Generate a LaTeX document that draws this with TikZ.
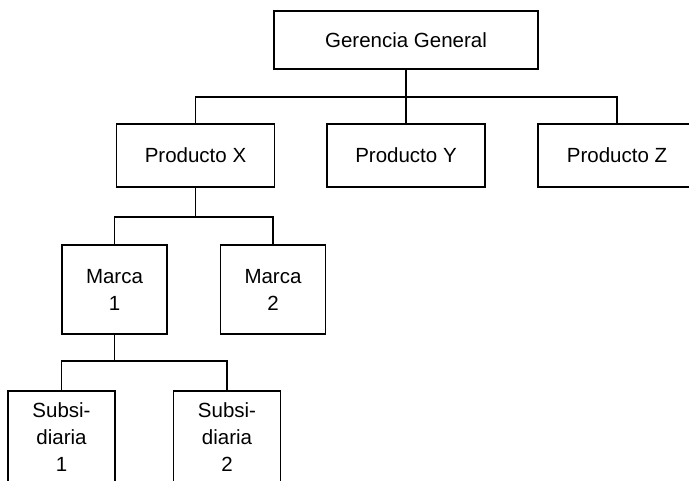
\documentclass[tikz,border=0pt]{standalone}
\usepackage{fontspec}
\setmainfont{Liberation Sans}
\begin{document}
\begin{tikzpicture}[x=1pt,y=-1pt,
  box/.style={draw=black, line width=1.1pt, align=center, inner sep=0pt,
              font=\fontsize{20.5}{27}\selectfont},
  wide/.style={box, minimum width=158pt, minimum height=63pt},
  mid/.style={box, minimum width=105pt, minimum height=89pt},
  low/.style={box, minimum width=107pt, minimum height=93pt},
  link/.style={draw=black, line width=1.1pt}]
\useasboundingbox (0,0) rectangle (689,480);
\clip (0,0) rectangle (689,480);

% top level
\node[box, minimum width=264pt, minimum height=58pt] (gg) at (406,40) {Gerencia General};

% products
\node[wide] (px) at (195.5,155.5) {Producto X};
\node[wide] (py) at (406,155.5) {Producto Y};
\node[wide] (pz) at (617,155.5) {Producto Z};

% brands
\node[mid] (m1) at (114.5,289.5) {Marca\\1};
\node[mid] (m2) at (273,289.5) {Marca\\2};

% subsidiaries (boxes run off the lower edge)
\node[low] (s1) at (61.5,437.5) {Subsi-\\diaria\\1};
\node[low] (s2) at (227,437.5) {Subsi-\\diaria\\2};

% heights of the horizontal bus lines
\coordinate (b1) at (0,97);
\coordinate (b2) at (0,217);
\coordinate (b3) at (0,361);

\draw[link] (gg.south) -- (py.north);
\draw[link] (px.north) -- (px.north |- b1) -| (pz.north);

\draw[link] (px.south) -- (px.south |- b2);
\draw[link] (m1.north) -- (m1.north |- b2) -| (m2.north);

\draw[link] (m1.south) -- (m1.south |- b3);
\draw[link] (s1.north) -- (s1.north |- b3) -| (s2.north);
\end{tikzpicture}
\end{document}
